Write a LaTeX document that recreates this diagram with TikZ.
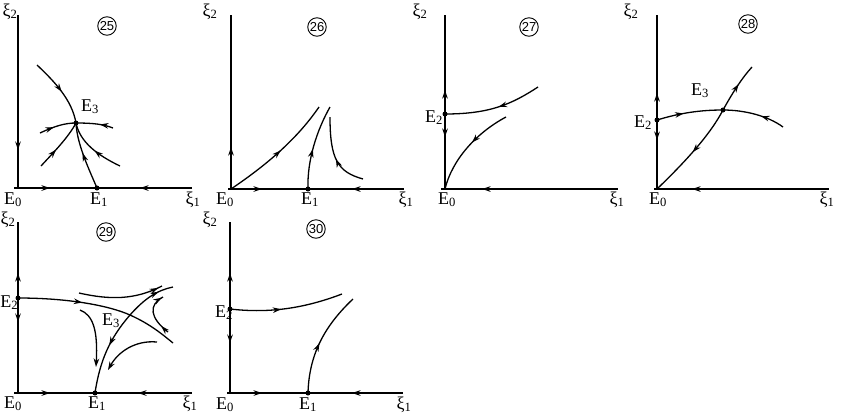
\documentclass[tikz,border=0pt]{standalone}
\usepackage{fontspec}
\setmainfont{Liberation Serif}
\newfontfamily\numfont{Liberation Sans}
\usetikzlibrary{arrows.meta,decorations.markings}
\tikzset{>={Stealth[length=8.5pt,width=5.6pt]}}
\begin{document}
\begin{tikzpicture}[x=1pt,y=-1pt,
  every node/.style={inner sep=0pt},
  traj/.style={line width=1.3pt},
  axisline/.style={line width=1.3pt},
  ar/.style={postaction={decorate,decoration={markings,mark=at position #1 with {\arrow{>}}}}},
  ra/.style={postaction={decorate,decoration={markings,mark=at position #1 with {\arrowreversed{>}}}}},
  eqpt/.style={circle,fill,minimum size=5pt,inner sep=0pt},
  lab/.style={font=\fontsize{18}{18}\selectfont, anchor=base},
  num/.style={circle,draw,line width=0.9pt,minimum size=18.5pt,inner sep=0pt,font=\numfont\fontsize{13}{13}\selectfont}
]
\useasboundingbox (0,0) rectangle (844,416);

% ---------------- Panel 25 ----------------
\coordinate (T25) at (18,15);
\coordinate (O25) at (18,188);
\coordinate (L25) at (14,188);
\coordinate (R25) at (192,188);
\draw[axisline, ar=135pt] (T25) -- (O25);
\draw[axisline, ar=36pt, ra=126pt] (L25) -- (R25);
\node[eqpt] (E1p25) at (97,188) {};
\node[eqpt] (E3p25) at (76,123) {};
\coordinate (A25s) at (37,65);
\coordinate (A25e) at (120,166);
\coordinate (C25s) at (40,133);
\coordinate (C25e) at (113,128);
\coordinate (D25s) at (41,166);
\draw[traj, ar=0.27, ra=0.78] (A25s) .. controls (55,82) and (72,100) .. (E3p25.center) .. controls (80,142) and (97,155) .. (A25e);
\draw[traj, ar=0.55] (E1p25.center) .. controls (87,165) and (77,143) .. (E3p25.center);
\draw[traj, ar=0.2, ra=0.82] (C25s) .. controls (55,126) and (65,123) .. (E3p25.center) .. controls (92,123) and (103,124) .. (C25e);
\draw[traj, ar=0.4] (D25s) .. controls (52,154) and (68,138) .. (E3p25.center);
\node[lab] (xi2l25) at (10,16) {ξ\textsubscript{2}};
\node[num] (n25) at (107,26) {25};
\node[lab] (E3l25) at (90,111) {E\textsubscript{3}};
\node[lab] (E0l25) at (13,204) {E\textsubscript{0}};
\node[lab] (E1l25) at (99,204) {E\textsubscript{1}};
\node[lab] (xi1l25) at (193,204) {ξ\textsubscript{1}};

% ---------------- Panel 26 ----------------
\coordinate (T26) at (231,15);
\coordinate (L26) at (228,189);
\coordinate (R26) at (404,189);
\node[eqpt, minimum size=0pt] (E0p26) at (231,189) {};
\node[eqpt] (E1p26) at (308,189) {};
\draw[axisline, ra=132pt] (T26) -- (E0p26.center);
\draw[axisline, ar=34pt, ra=124pt] (L26) -- (R26);
\coordinate (A26e) at (319,107);
\coordinate (B26e) at (330,107);
\coordinate (C26s) at (363,179);
\coordinate (C26e) at (330,117);
\draw[traj, ar=0.52] (E0p26.center) .. controls (262,168) and (295,142) .. (A26e);
\draw[traj, ar=0.47] (E1p26.center) .. controls (307,160) and (317,130) .. (B26e);
\draw[traj, ar=0.45] (C26s) .. controls (338,172) and (330,160) .. (C26e);
\node[lab] (xi2l26) at (210,16) {ξ\textsubscript{2}};
\node[num] (n26) at (317,27) {26};
\node[lab] (E0l26) at (225,204) {E\textsubscript{0}};
\node[lab] (E1l26) at (310,204) {E\textsubscript{1}};
\node[lab] (xi1l26) at (406,204) {ξ\textsubscript{1}};

% ---------------- Panel 27 ----------------
\coordinate (T27) at (445,15);
\coordinate (L27) at (441,189);
\coordinate (R27) at (618,189);
\node[eqpt, minimum size=0pt] (E0p27) at (445,189) {};
\node[eqpt] (E2p27) at (445,114) {};
\draw[axisline, ra=75pt, ar=122pt] (T27) -- (E0p27.center);
\draw[axisline, ra=41pt] (L27) -- (R27);
\coordinate (A27s) at (538,87);
\coordinate (B27s) at (506,117);
\draw[traj, ar=0.45] (A27s) .. controls (512,104) and (490,114) .. (E2p27.center);
\draw[traj, ar=0.44] (B27s) .. controls (476,133) and (452,160) .. (E0p27.center);
\node[lab] (xi2l27) at (420,16) {ξ\textsubscript{2}};
\node[num] (n27) at (529,27) {27};
\node[lab] (E2l27) at (434,122) {E\textsubscript{2}};
\node[lab] (E0l27) at (447,204) {E\textsubscript{0}};
\node[lab] (xi1l27) at (617,204) {ξ\textsubscript{1}};

% ---------------- Panel 28 ----------------
\coordinate (T28) at (657,15);
\coordinate (L28) at (654,189);
\coordinate (R28) at (829,189);
\node[eqpt, minimum size=0pt] (E0p28) at (657,189) {};
\node[eqpt] (E2p28) at (657,120) {};
\node[eqpt] (E3p28) at (723,110) {};
\draw[axisline, ra=78pt, ar=125pt] (T28) -- (E0p28.center);
\draw[axisline, ra=38pt] (L28) -- (R28);
\coordinate (A28e) at (783,127);
\coordinate (B28e) at (752,67);
\draw[traj, ar=0.21, ra=0.81] (E2p28.center) .. controls (680,113) and (700,110) .. (E3p28.center) .. controls (745,110) and (768,116) .. (A28e);
\draw[traj, ra=0.33, ar=0.86] (E0p28.center) .. controls (685,162) and (710,135) .. (E3p28.center) .. controls (733,92) and (742,78) .. (B28e);
\node[lab] (xi2l28) at (631,16) {ξ\textsubscript{2}};
\node[num] (n28) at (748,24) {28};
\node[lab] (E3l28) at (700,95) {E\textsubscript{3}};
\node[lab] (E2l28) at (643,127) {E\textsubscript{2}};
\node[lab] (E0l28) at (658,204) {E\textsubscript{0}};
\node[lab] (xi1l28) at (827,204) {ξ\textsubscript{1}};

% ---------------- Panel 29 ----------------
\coordinate (T29) at (18,222);
\coordinate (O29) at (18,393);
\coordinate (L29) at (14,393);
\coordinate (R29) at (192,393);
\node[eqpt] (E2p29) at (18,298) {};
\node[eqpt] (E1p29) at (95,393) {};
\coordinate (E3p29) at (130,315);
\draw[axisline, ra=51pt, ar=100pt] (T29) -- (O29);
\draw[axisline, ar=36pt, ra=124pt] (L29) -- (R29);
\coordinate (A29e) at (173,343);
\draw[traj, ar=0.39] (E2p29.center) .. controls (70,298) and (110,306) .. (E3p29) .. controls (150,324) and (162,334) .. (A29e);
\coordinate (B29s) at (79,293);
\coordinate (B29e) at (162,286);
\draw[traj, ar=0.95] (B29s) .. controls (110,300) and (135,300) .. (B29e);
\coordinate (C29e) at (173,287);
\draw[traj, ra=0.36, ar=0.89] (E1p29.center) .. controls (100,360) and (110,338) .. (E3p29) .. controls (145,298) and (158,290) .. (C29e);
\coordinate (H29s) at (168,332);
\coordinate (H29e) at (163,297);
\draw[traj, ar=0.2, ar=0.97] (H29s) .. controls (150,318) and (148,305) .. (H29e);
\coordinate (D29s) at (80,310);
\coordinate (D29e) at (96,367);
\draw[traj, -{Stealth[length=8.5pt,width=5.6pt]}] (D29s) .. controls (93,315) and (98,330) .. (D29e);
\coordinate (F29s) at (157,342);
\coordinate (F29e) at (108,370);
\draw[traj, -{Stealth[length=8.5pt,width=5.6pt]}] (F29s) .. controls (135,340) and (118,352) .. (F29e);
\node[lab] (xi2l29) at (8,224) {ξ\textsubscript{2}};
\node[num] (n29) at (106,232) {29};
\node[lab, anchor=base west] (E2l29) at (0.3,307) {E\textsubscript{2}};
\node[lab] (E3l29) at (111,325) {E\textsubscript{3}};
\node[lab] (E0l29) at (13,408) {E\textsubscript{0}};
\node[lab] (E1l29) at (97,408) {E\textsubscript{1}};
\node[lab] (xi1l29) at (190,408) {ξ\textsubscript{1}};

% ---------------- Panel 30 ----------------
\coordinate (T30) at (230,222);
\coordinate (O30) at (230,393);
\coordinate (L30) at (227,393);
\coordinate (R30) at (403,393);
\node[eqpt] (E2p30) at (230,309) {};
\node[eqpt] (E1p30) at (308,393) {};
\draw[axisline, ra=51pt, ar=121pt] (T30) -- (O30);
\draw[axisline, ar=35pt, ra=125pt] (L30) -- (R30);
\coordinate (A30e) at (342,294);
\coordinate (B30e) at (353,299);
\draw[traj, ar=0.45] (E2p30.center) .. controls (265,313) and (300,310) .. (A30e);
\draw[traj, ar=0.48] (E1p30.center) .. controls (309,360) and (320,330) .. (B30e);
\node[lab] (xi2l30) at (210,224) {ξ\textsubscript{2}};
\node[num] (n30) at (316,229) {30};
\node[lab] (E2l30) at (224,317) {E\textsubscript{2}};
\node[lab] (E0l30) at (225,409) {E\textsubscript{0}};
\node[lab] (E1l30) at (308,409) {E\textsubscript{1}};
\node[lab] (xi1l30) at (404,409) {ξ\textsubscript{1}};
\end{tikzpicture}
\end{document}
